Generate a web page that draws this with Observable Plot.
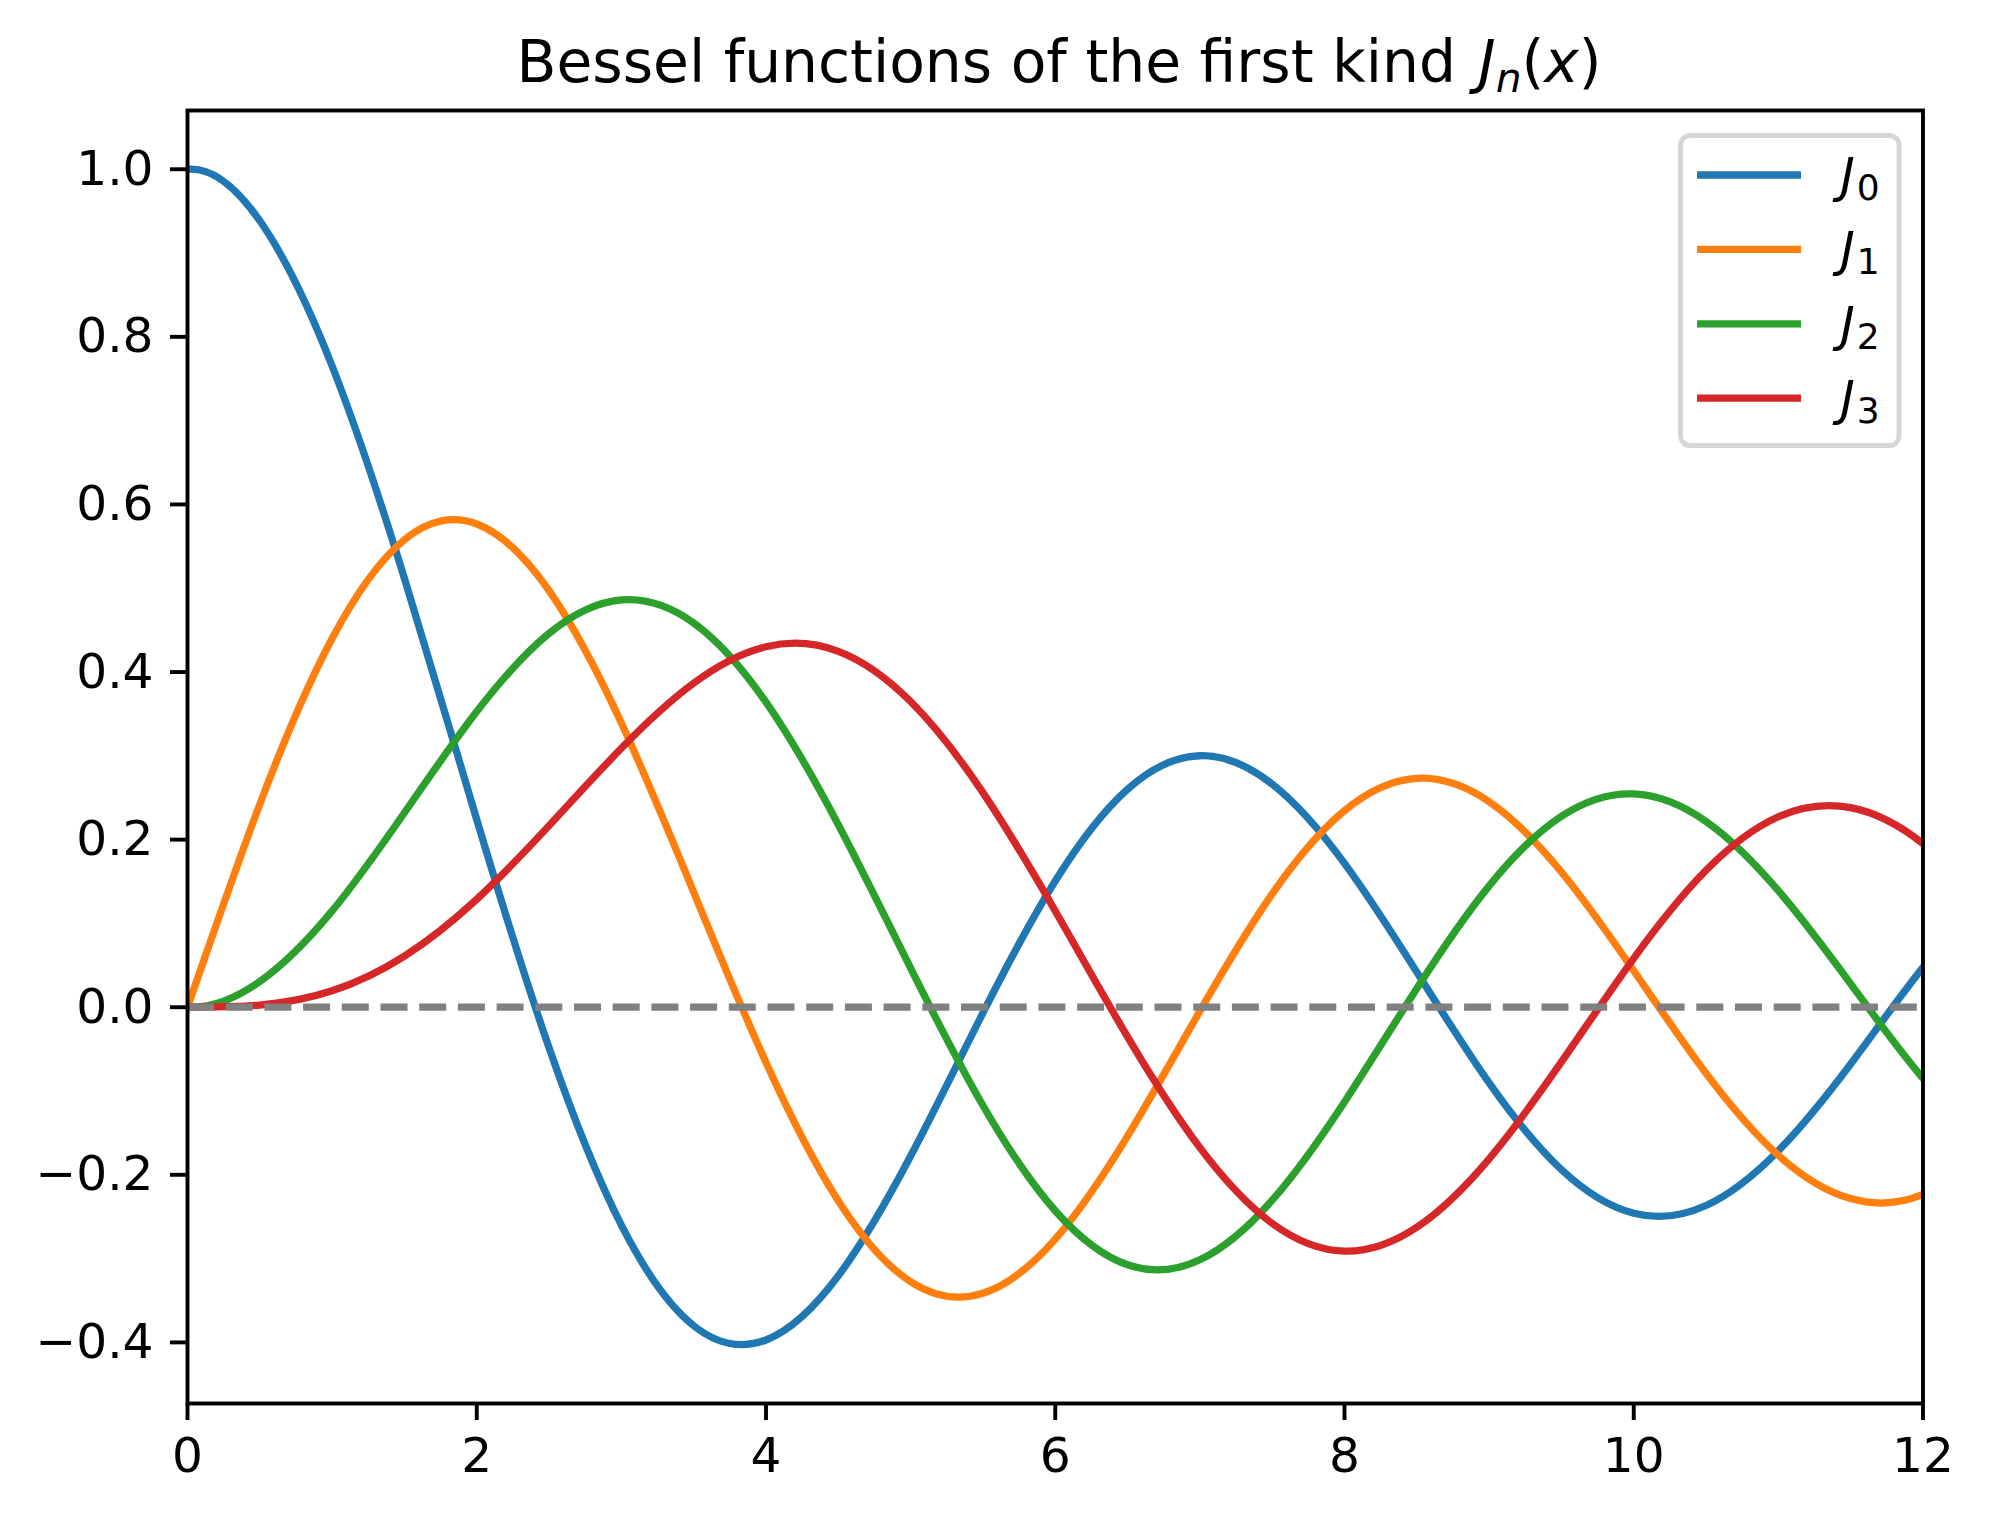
<!DOCTYPE html>
<html>
<head>
<meta charset="utf-8">
<script src="https://cdn.jsdelivr.net/npm/d3@7"></script>
<script src="https://cdn.jsdelivr.net/npm/@observablehq/plot@0.6"></script>
<style>
  html, body { margin: 0; padding: 0; background: white; }
  #chart { width: 1989px; height: 1521px; }
</style>
</head>
<body>
<div id="chart"></div>
<script>
// ---- data ----
const xs = [-0.5, 0, 0.5, 1, 1.5, 2, 2.5, 3, 3.5, 4, 4.5, 5, 5.5, 6, 6.5, 7, 7.5, 8, 8.5, 9, 9.5, 10, 10.5, 11, 11.5, 12, 12.5];
const j0 = [0.9385, 1, 0.9385, 0.7652, 0.5118, 0.2239, -0.0484, -0.2601, -0.3801, -0.3971, -0.3205, -0.1776, -0.0068, 0.1506, 0.2601, 0.3001, 0.2663, 0.1717, 0.0419, -0.0903, -0.1939, -0.2459, -0.2366, -0.1712, -0.0677, 0.0477, 0.1469];
const j1 = [-0.2423, 0, 0.2423, 0.4401, 0.5579, 0.5767, 0.4971, 0.3391, 0.1374, -0.0660, -0.2311, -0.3276, -0.3414, -0.2767, -0.1538, -0.0047, 0.1352, 0.2346, 0.2731, 0.2453, 0.1613, 0.0435, -0.0789, -0.1768, -0.2284, -0.2234, -0.1654];
const j2 = [0.0306, 0, 0.0306, 0.1149, 0.2321, 0.3528, 0.4461, 0.4861, 0.4586, 0.3641, 0.2178, 0.0466, -0.1173, -0.2429, -0.3074, -0.3014, -0.2303, -0.1130, 0.0223, 0.1448, 0.2279, 0.2546, 0.2217, 0.1390, 0.0279, -0.0849, -0.1733];
const j3 = [-0.0026, 0, 0.0026, 0.0196, 0.0610, 0.1289, 0.2167, 0.3091, 0.3868, 0.4302, 0.4247, 0.3648, 0.2561, 0.1148, -0.0354, -0.1676, -0.2580, -0.2911, -0.2626, -0.1809, -0.0653, 0.0584, 0.1634, 0.2273, 0.2381, 0.1951, 0.1100];
const seriesNames = ["J0", "J1", "J2", "J3"];
const seriesSubs = ["0", "1", "2", "3"];
const seriesColors = ["#1f77b4", "#ff7f0e", "#2ca02c", "#d62728"];
const xTicks = [0, 2, 4, 6, 8, 10, 12];
const yTicks = [-0.4, -0.2, 0.0, 0.2, 0.4, 0.6, 0.8, 1.0];
const refLine = [0];

const seriesValues = [j0, j1, j2, j3];
const table = [];
seriesNames.forEach((name, i) => {
  xs.forEach((x, k) => table.push({x, y: seriesValues[i][k], series: name}));
});

const FONT = "'DejaVu Sans', 'Liberation Sans', sans-serif";
const plot = Plot.plot({
  width: 1989,
  height: 1521,
  marginLeft: 187,
  marginRight: 66.5,
  marginTop: 110,
  marginBottom: 118,
  style: {fontFamily: FONT, fontSize: "48.6px", background: "white", color: "black", overflow: "visible"},
  x: {domain: [0, 12]},
  y: {domain: [-0.4729, 1.0701]},
  color: {domain: seriesNames, range: seriesColors},
  marks: [
    Plot.line(table, {x: "x", y: "y", z: "series", stroke: "series", strokeWidth: 7.3, curve: "natural", clip: true, strokeLinecap: "butt"}),
    Plot.ruleY(refLine, {stroke: "#808080", strokeWidth: 7.3, strokeDasharray: "27,11.7"}),
    Plot.frame({stroke: "black", strokeWidth: 3.9}),
    Plot.axisX({ticks: xTicks, tickSize: 17, tickPadding: 17, strokeWidth: 3.9, fontSize: 48.6, label: null, tickFormat: d => String(d)}),
    Plot.axisY({ticks: yTicks, tickSize: 17, tickPadding: 17, strokeWidth: 3.9, fontSize: 48.6, label: null, tickFormat: d3.format(".1f")})
  ]
});
document.getElementById("chart").appendChild(plot);

const svg = d3.select(plot);

// title (mathtext-like)
const title = svg.append("text")
  .attr("x", 1059).attr("y", 82)
  .attr("text-anchor", "middle")
  .attr("font-family", FONT).attr("font-size", 58.3).attr("fill", "black");
title.append("tspan").text("Bessel functions of the first kind ");
title.append("tspan").attr("font-style", "italic").attr("dx", 4).text("J");
title.append("tspan").attr("font-style", "italic").attr("font-size", 40.8).attr("dy", 10).text("n");
title.append("tspan").attr("dy", -10).text("(");
title.append("tspan").attr("font-style", "italic").text("x");
title.append("tspan").text(")");

// legend
const lg = svg.append("g");
lg.append("rect")
  .attr("x", 1680.5).attr("y", 135.5).attr("width", 218.5).attr("height", 310).attr("rx", 9.7)
  .attr("fill", "white").attr("fill-opacity", 0.8)
  .attr("stroke", "#d6d6d6").attr("stroke-width", 4.9);
seriesNames.forEach((name, i) => {
  const ly = 175 + i * 74.4;
  lg.append("line").attr("x1", 1697).attr("x2", 1801).attr("y1", ly).attr("y2", ly)
    .attr("stroke", seriesColors[i]).attr("stroke-width", 7.3);
  const t = lg.append("text").attr("x", 1860).attr("y", ly + 17)
    .attr("font-family", FONT).attr("font-size", 48.6).attr("fill", "black");
  t.append("tspan").attr("font-style", "italic").text("J");
  t.append("tspan").attr("font-size", 36).attr("dx", 2).attr("dy", 8).text(seriesSubs[i]);
});
</script>
</body>
</html>
